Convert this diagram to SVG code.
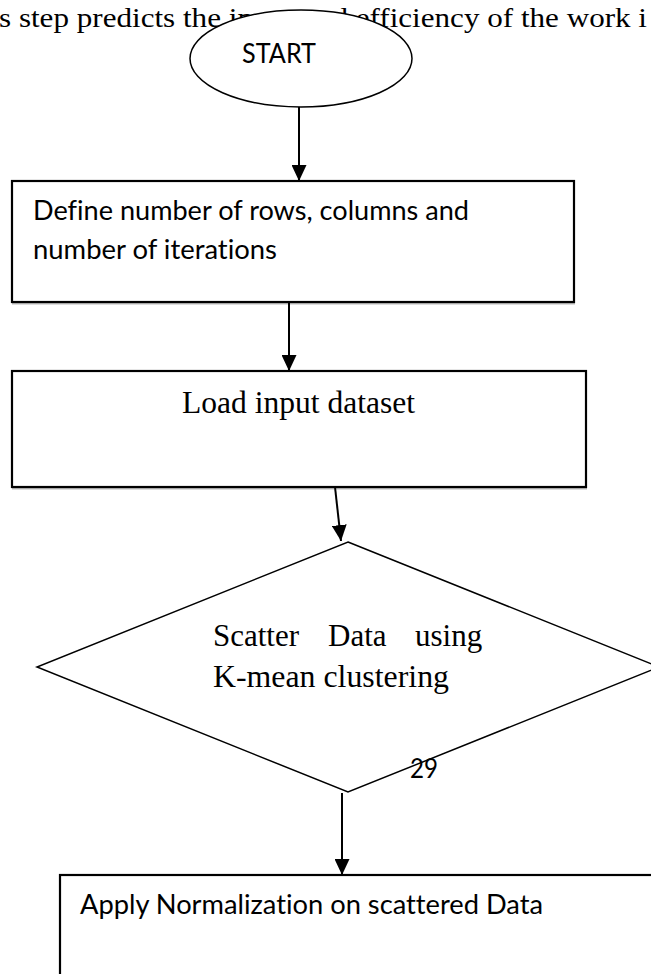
<svg xmlns="http://www.w3.org/2000/svg" width="651" height="974" viewBox="0 0 651 974">
  <defs>
    <style>
      .shape { fill: #fff; stroke: #000; stroke-width: 1.5; }
      .box { fill: #fff; stroke: #000; stroke-width: 2.2; }
      .shade { stroke: #8a8a8a; stroke-width: 1; }
      .serif { font-family: "Liberation Serif", "Times New Roman", serif; fill: #000; }
      .sans { font-family: Lato, "Open Sans", sans-serif; fill: #000; font-variant-ligatures: none; }
      .conn { stroke: #000; stroke-width: 2; fill: none; marker-end: url(#arrow); }
    </style>
    <marker id="arrow" markerUnits="userSpaceOnUse" markerWidth="16" markerHeight="15" refX="16" refY="7.5" orient="auto">
      <path d="M0,0 L16,7.5 L0,15 Z" fill="#000"/>
    </marker>
  </defs>

  <rect width="651" height="974" fill="#fff"/>

  <!-- running body text behind the start terminal -->
  <g id="page-text">
    <text class="serif" x="-1" y="27" font-size="28" textLength="648" lengthAdjust="spacingAndGlyphs">s step predicts the improved efficiency of the work i</text>
  </g>

  <g id="start">
    <ellipse class="shape" cx="301" cy="58.5" rx="111" ry="48.5"/>
    <text class="sans" x="242" y="63" font-size="26" textLength="74" lengthAdjust="spacingAndGlyphs">START</text>
  </g>

  <g id="define">
    <rect class="box" x="12" y="181" width="562" height="121"/>
    <line class="shade" x1="12" y1="303.8" x2="575" y2="303.8"/>
    <text class="sans" x="33" y="220" font-size="26" textLength="436" lengthAdjust="spacingAndGlyphs">Define number of rows, columns and</text>
    <text class="sans" x="33" y="259" font-size="26" textLength="244" lengthAdjust="spacingAndGlyphs">number of iterations</text>
  </g>

  <g id="load">
    <rect class="box" x="12" y="371" width="574" height="116"/>
    <line class="shade" x1="12" y1="488.8" x2="587" y2="488.8"/>
    <text class="serif" x="182" y="413" font-size="31" textLength="233" lengthAdjust="spacingAndGlyphs">Load input dataset</text>
  </g>

  <g id="scatter">
    <polygon class="shape" points="348,542 659,667 348,792 37,667"/>
    <text class="serif" y="646" font-size="31"><tspan x="213">Scatter</tspan><tspan x="328">Data</tspan><tspan x="415">using</tspan></text>
    <text class="serif" x="213" y="687" font-size="31" textLength="236" lengthAdjust="spacingAndGlyphs">K-mean clustering</text>
  </g>

  <g id="page-number">
    <text class="sans" x="410" y="778" font-size="26" textLength="28" lengthAdjust="spacingAndGlyphs">29</text>
  </g>

  <g id="normalize">
    <rect class="box" x="60" y="875" width="620" height="130"/>
    <text class="sans" x="80" y="914" font-size="26" textLength="463" lengthAdjust="spacingAndGlyphs">Apply Normalization on scattered Data</text>
  </g>

  <g id="connectors">
    <line class="conn" x1="299" y1="107" x2="299" y2="181"/>
    <line class="conn" x1="289" y1="302" x2="289" y2="371"/>
    <line class="conn" x1="335" y1="487" x2="341" y2="541"/>
    <line class="conn" x1="342" y1="793" x2="342" y2="875"/>
  </g>
</svg>
